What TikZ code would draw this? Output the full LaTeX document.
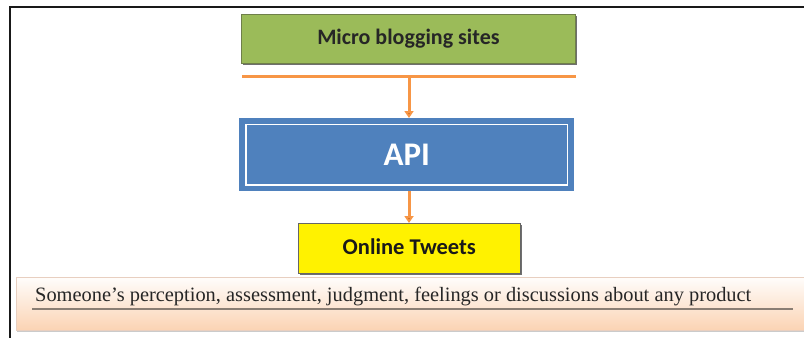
\documentclass[tikz,border=0pt]{standalone}
\usepackage{fontspec}
\setmainfont{Liberation Serif}
\setsansfont{Carlito}
\usetikzlibrary{shadows,arrows.meta}
\definecolor{grn}{HTML}{9BBB59}
\definecolor{grnborder}{HTML}{6F7F4A}
\definecolor{apiblue}{HTML}{4F81BD}
\definecolor{orng}{HTML}{F79646}
\definecolor{orngdark}{HTML}{D86F22}
\definecolor{peach}{HTML}{FBD3B3}
\definecolor{peachborder}{HTML}{E8CFC0}
\definecolor{ulcol}{HTML}{8A7E74}
\tikzset{
  boxshadow/.style={drop shadow={shadow xshift=2bp,shadow yshift=-2bp,fill=black!70,opacity=0.8}},
  greenbox/.style={draw=grnborder,line width=0.8bp,fill=grn,boxshadow,minimum width=334bp,minimum height=49bp,anchor=north west,inner sep=0pt,
    font=\sffamily\bfseries\fontsize{22bp}{24bp}\selectfont,text=black!85},
  apibox/.style={fill=apiblue,draw=none,minimum width=335bp,minimum height=73bp,anchor=north west,inner sep=0pt,
    font=\sffamily\bfseries\fontsize{33bp}{36bp}\selectfont,text=white},
  yellowbox/.style={draw=black!60,line width=0.6bp,fill=yellow,boxshadow,minimum width=222bp,minimum height=50bp,anchor=north west,inner sep=0pt,
    font=\sffamily\bfseries\fontsize{22.5bp}{24bp}\selectfont,text=black!90},
  peachbox/.style={draw=peachborder,line width=0.8bp,top color=white!95!peach,bottom color=peach,
    drop shadow={shadow xshift=1bp,shadow yshift=-2bp,fill=black!40,opacity=0.5},
    minimum width=800bp,minimum height=53bp,anchor=north west,inner sep=0pt},
  flow/.style={draw=orng,line width=3bp,-{Triangle[length=7bp,width=9bp,fill=orngdark]}},
  frameline/.style={draw=black!90,line width=2bp},
}
\begin{document}
\begin{tikzpicture}[x=1bp,y=-1bp]
\useasboundingbox (0,0) rectangle (804,337);
\fill[white] (0,0) rectangle (804,337);
% outer frame
\coordinate (fTL) at (10,7);
\coordinate (fTR) at (806,7);
\coordinate (fBL) at (10,340);
\draw[frameline] (fBL) -- (fTL) -- (fTR);
% boxes
\node[greenbox] (micro) at (241,14) {\raisebox{3bp}{Micro blogging sites}};
\coordinate (barL) at (242,76);
\coordinate (barR) at (576,76);
\coordinate (barM) at (409,76);
\draw[orng,line width=3bp] (barL) -- (barR);
\node[apibox] (api) at (239,118) {API};
\draw[white,line width=1.8bp] ([shift={(7bp,-6.5bp)}]api.north west) rectangle ([shift={(-7bp,6.5bp)}]api.south east);
\node[yellowbox] (tweets) at (298,223) {\raisebox{4bp}{Online Tweets}};
\node[peachbox] (opinion) at (16,277) {};
\node[anchor=base west,inner sep=0pt,font=\fontsize{20.4bp}{22bp}\selectfont,text=black!85] (opText) at (35,301)
  {Someone’s perception, assessment, judgment, feelings or discussions about any product};
\coordinate (ulL) at (32,309);
\coordinate (ulR) at (793,309);
\draw[ulcol,line width=1.8bp] (ulL) -- (ulR);
% connectors
\draw[flow] (barM) -- (barM |- api.north);
\draw[flow] (barM |- api.south) -- (barM |- tweets.north);
\end{tikzpicture}
\end{document}
